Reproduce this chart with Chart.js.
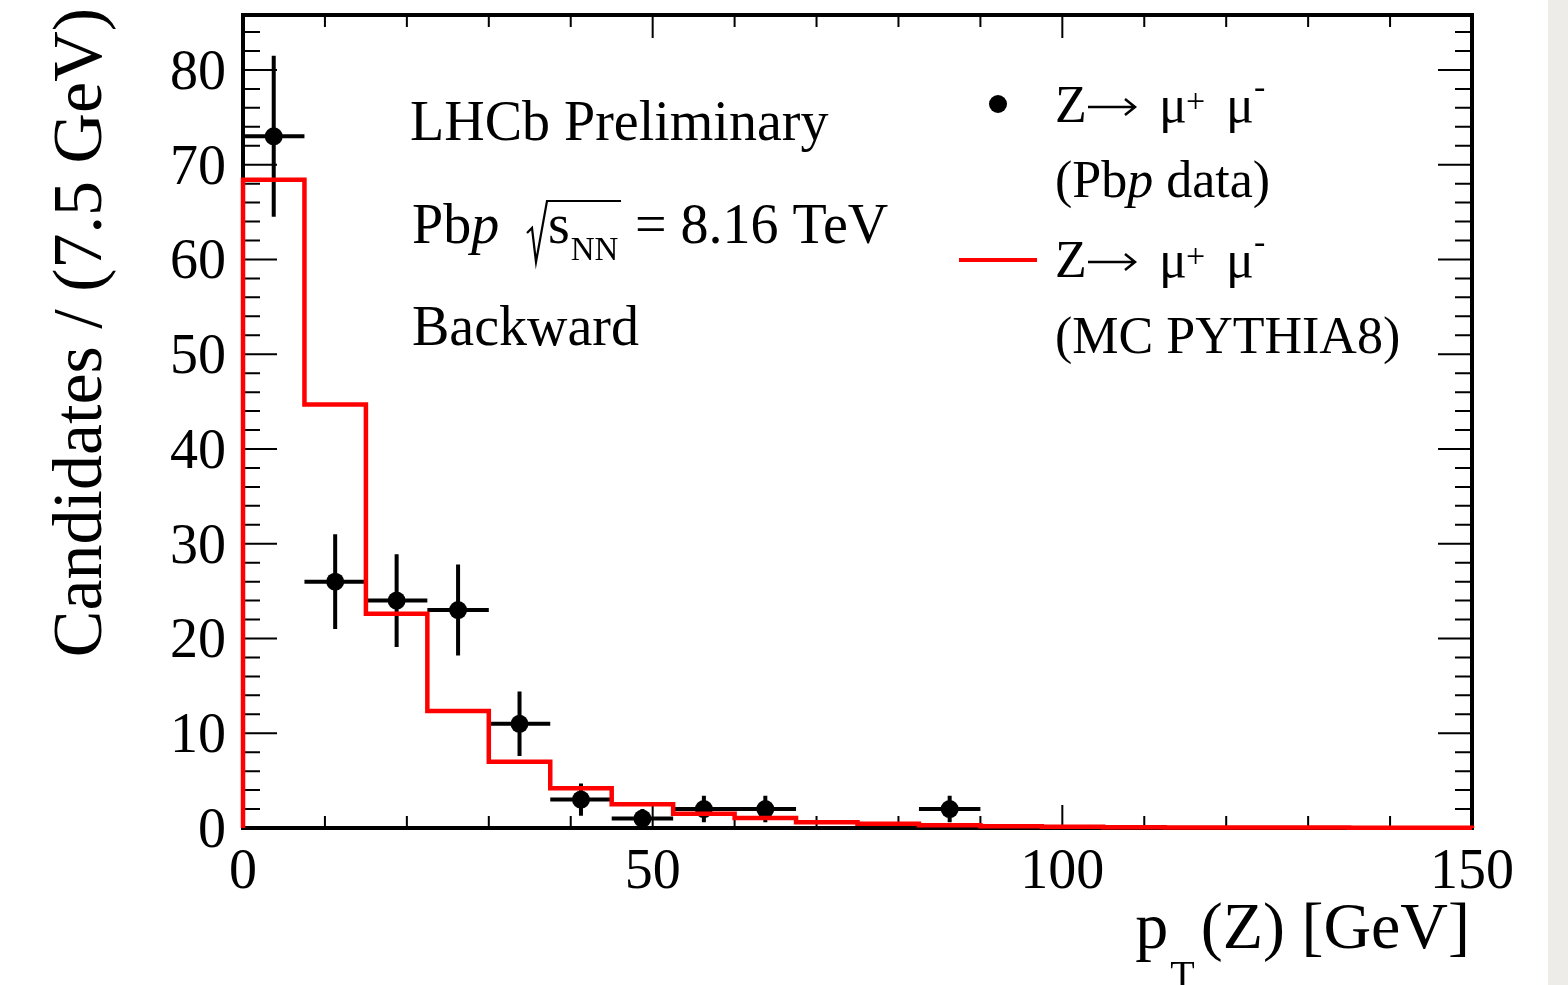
<!DOCTYPE html>
<html lang="en">
<head>
  <meta charset="UTF-8" />
  <title>LHCb Pbp Z pT backward</title>
  <script src="https://cdn.jsdelivr.net/npm/chart.js"></script>
  <style>
    html, body { margin: 0; padding: 0; background: #fff; }
    .wrap { position: relative; width: 1568px; height: 985px; }
  </style>
</head>
<body>
<div class="wrap"><canvas id="ptChart"></canvas></div>
<script>
  // bin edges of the 7.5 GeV histogram
  const binEdges = [0, 7.5, 15, 22.5, 30, 37.5, 45, 52.5, 60, 67.5, 75,
                    82.5, 90, 97.5, 105, 112.5, 120, 127.5, 135, 142.5, 150];
  // MC PYTHIA8 expectation per bin
  const mcValues = [68.4, 44.7, 22.6, 12.35, 7.0, 4.2, 2.5, 1.5, 1.05, 0.6,
                    0.45, 0.28, 0.18, 0.12, 0.08, 0.06, 0.05, 0.04, 0.03, 0.03];
  // Pbp data points (bin centre, count, vertical error)
  const dataX = [3.75, 11.25, 18.75, 26.25, 33.75, 41.25, 48.75, 56.25, 63.75, 86.25];
  const dataY = [73, 26, 24, 23, 11, 3, 1, 2, 2, 2];
  const dataErr = [8.5, 5.0, 4.9, 4.8, 3.4, 1.7, 1.0, 1.4, 1.4, 1.4];
  const binHalfWidth = 3.75;

  const xTicks = [0, 50, 100, 150];
  const yTicks = [0, 10, 20, 30, 40, 50, 60, 70, 80];
  const yMax = 85.8;

  const serif = '"Liberation Serif", "Times New Roman", serif';
  const font = (size, italic) => (italic ? 'italic ' : '') + size + 'px ' + serif;

  // histogram outline as corner points
  const mcLine = [{ x: binEdges[0], y: 0 }];
  mcValues.forEach((v, i) => {
    mcLine.push({ x: binEdges[i], y: v });
    mcLine.push({ x: binEdges[i + 1], y: v });
  });
  mcLine.push({ x: binEdges[binEdges.length - 1], y: 0 });

  const points = dataX.map((x, i) => ({ x: x, y: dataY[i] }));

  function text(ctx, str, x, y, size, italic) {
    ctx.font = font(size, italic);
    ctx.fillText(str, x, y);
    return x + ctx.measureText(str).width;
  }

  // "Z-> mu+ mu-" with a long drawn arrow
  function zmumu(ctx, x, y) {
    ctx.save();
    ctx.textAlign = 'left';
    text(ctx, 'Z', x, y, 52);
    ctx.strokeStyle = '#000';
    ctx.lineWidth = 2.5;
    ctx.beginPath();
    ctx.moveTo(x + 33, y - 15); ctx.lineTo(x + 79, y - 15);
    ctx.moveTo(x + 70, y - 23); ctx.lineTo(x + 80, y - 15); ctx.lineTo(x + 70, y - 7);
    ctx.stroke();
    text(ctx, '\u03bc', x + 104, y, 52);
    text(ctx, '+', x + 131, y - 10, 34);
    text(ctx, '\u03bc', x + 171, y, 52);
    text(ctx, '-', x + 199, y - 24, 34);
    ctx.restore();
  }

  const paperPlugin = {
    id: 'paper',
    beforeDraw(chart) {
      const ctx = chart.ctx;
      ctx.save();
      ctx.fillStyle = '#ffffff';
      ctx.fillRect(0, 0, chart.width, chart.height);
      ctx.fillStyle = '#eeece9';
      ctx.fillRect(1548, 0, chart.width - 1548, chart.height);
      ctx.restore();
    },
    beforeDatasetsDraw(chart) {
      const ctx = chart.ctx;
      const { left, right, top, bottom } = chart.chartArea;
      const xs = chart.scales.x, ys = chart.scales.y;
      ctx.save();
      ctx.strokeStyle = '#000';

      // frame and inward ticks, under the histogram
      ctx.lineWidth = 2;
      ctx.beginPath();
      for (let v = 0; v <= 150; v += 10) {
        const px = xs.getPixelForValue(v);
        const len = v % 50 === 0 ? 23 : 12;
        ctx.moveTo(px, bottom); ctx.lineTo(px, bottom - len);
        ctx.moveTo(px, top); ctx.lineTo(px, top + len);
      }
      for (let v = 0; v <= yMax; v += 2) {
        const py = ys.getPixelForValue(v);
        const len = v % 10 === 0 ? 34 : 17;
        ctx.moveTo(left, py); ctx.lineTo(left + len, py);
        ctx.moveTo(right, py); ctx.lineTo(right - len, py);
      }
      ctx.stroke();
      ctx.lineWidth = 4;
      ctx.strokeRect(left, top, right - left, bottom - top);

      // error bars under the markers
      ctx.lineWidth = 4;
      ctx.beginPath();
      dataX.forEach((x, i) => {
        const px = xs.getPixelForValue(x), py = ys.getPixelForValue(dataY[i]);
        ctx.moveTo(xs.getPixelForValue(x - binHalfWidth), py);
        ctx.lineTo(xs.getPixelForValue(x + binHalfWidth), py);
        ctx.moveTo(px, ys.getPixelForValue(dataY[i] + dataErr[i]));
        ctx.lineTo(px, ys.getPixelForValue(Math.max(0, dataY[i] - dataErr[i])));
      });
      ctx.stroke();
      ctx.restore();
    },
    afterDraw(chart) {
      const ctx = chart.ctx;
      const { left, right } = chart.chartArea;
      const xs = chart.scales.x, ys = chart.scales.y;
      ctx.save();
      ctx.strokeStyle = '#000';
      ctx.fillStyle = '#000';

      // tick labels
      ctx.textBaseline = 'alphabetic';
      ctx.font = font(56);
      ctx.textAlign = 'right';
      yTicks.forEach(v => ctx.fillText(String(v), left - 17, ys.getPixelForValue(v) + 19));
      ctx.textAlign = 'center';
      xTicks.forEach(v => ctx.fillText(String(v), xs.getPixelForValue(v), 888));

      // x axis title: pT(Z) [GeV], right aligned
      ctx.textAlign = 'left';
      ctx.font = font(66);
      const wp = ctx.measureText('p').width;
      const wRest = ctx.measureText('(Z) [GeV]').width;
      ctx.font = font(40);
      const wT = ctx.measureText('T').width;
      let tx = right - 2 - (wp + wT + wRest) - 8;
      tx = text(ctx, 'p', tx, 948, 66);
      tx = text(ctx, 'T', tx + 2, 988, 40);
      text(ctx, '(Z) [GeV]', tx + 6, 948, 66);

      // y axis title, rotated
      ctx.save();
      ctx.translate(101, 0);
      ctx.rotate(-Math.PI / 2);
      ctx.textAlign = 'right';
      ctx.font = font(70);
      ctx.fillText('Candidates / (7.5 GeV)', -8, 0);
      ctx.restore();

      // annotation
      ctx.textAlign = 'left';
      text(ctx, 'LHCb Preliminary', 410, 140, 56);
      let ax = text(ctx, 'Pb', 412, 243, 56);
      text(ctx, 'p', ax, 243, 56, true);
      ctx.lineWidth = 2.2;
      ctx.beginPath();
      ctx.moveTo(527, 233); ctx.lineTo(532, 228); ctx.lineTo(536, 262);
      ctx.lineTo(547, 201); ctx.lineTo(621, 201);
      ctx.stroke();
      ax = text(ctx, 's', 548, 243, 56);
      text(ctx, 'NN', ax + 1, 260, 33);
      text(ctx, '= 8.16 TeV', 635, 243, 56);
      text(ctx, 'Backward', 412, 345, 56);

      // legend
      ctx.beginPath();
      ctx.arc(998, 104, 9, 0, Math.PI * 2);
      ctx.fill();
      zmumu(ctx, 1055, 122);
      let lx = text(ctx, '(Pb', 1055, 197, 52);
      lx = text(ctx, 'p', lx, 197, 52, true);
      text(ctx, ' data)', lx, 197, 52);
      ctx.strokeStyle = '#ff0000';
      ctx.lineWidth = 4;
      ctx.beginPath();
      ctx.moveTo(959, 260); ctx.lineTo(1037, 260);
      ctx.stroke();
      zmumu(ctx, 1055, 277);
      text(ctx, '(MC PYTHIA8)', 1055, 353, 52);
      ctx.restore();
    }
  };

  new Chart(document.getElementById('ptChart'), {
    type: 'scatter',
    data: {
      datasets: [
        {
          type: 'line',
          label: 'Z\u2192\u03bc+\u03bc- (MC PYTHIA8)',
          data: mcLine,
          borderColor: '#ff0000',
          borderWidth: 4.5,
          pointRadius: 0,
          fill: false,
          tension: 0,
          clip: 5
        },
        {
          label: 'Z\u2192\u03bc+\u03bc- (Pbp data)',
          data: points,
          backgroundColor: '#000',
          borderWidth: 0,
          pointRadius: 9,
          pointHoverRadius: 9
        }
      ]
    },
    options: {
      responsive: true,
      maintainAspectRatio: false,
      animation: false,
      layout: { padding: { left: 0, top: 15, right: 96, bottom: 0 } },
      plugins: { legend: { display: false }, tooltip: { enabled: false } },
      scales: {
        x: {
          type: 'linear', min: 0, max: 150,
          grid: { display: false }, border: { display: false },
          ticks: { display: false },
          afterBuildTicks: s => { s.ticks = xTicks.map(v => ({ value: v })); },
          afterFit: s => { s.height = 157; }
        },
        y: {
          type: 'linear', min: 0, max: yMax,
          grid: { display: false }, border: { display: false },
          ticks: { display: false },
          afterBuildTicks: s => { s.ticks = yTicks.map(v => ({ value: v })); },
          afterFit: s => { s.width = 243; }
        }
      }
    },
    plugins: [paperPlugin]
  });
</script>
</body>
</html>
